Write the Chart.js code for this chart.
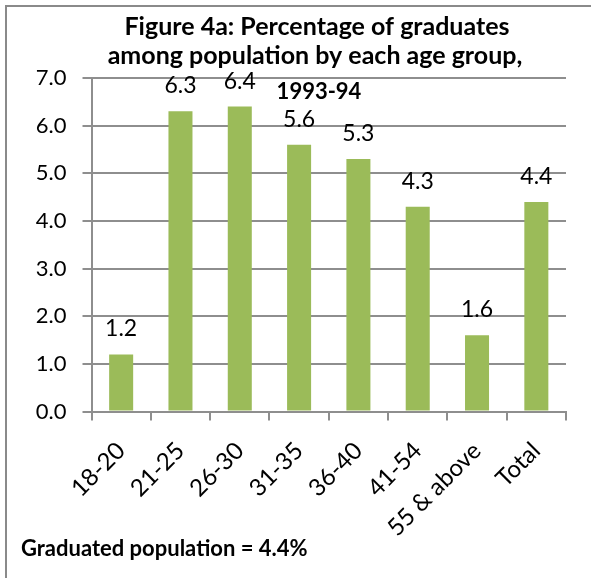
<!DOCTYPE html>
<html>
<head>
<meta charset="utf-8">
<script src="https://cdn.jsdelivr.net/npm/chart.js@4"></script>
<style>
  html, body { margin: 0; padding: 0; background: #fff; overflow: hidden; }
  #frame { position: absolute; left: 5px; top: 5px; width: 600px; height: 600px;
           border-left: 2px solid #8a8a8a; border-top: 2px solid #8a8a8a; }
  #wrap { position: absolute; left: 0; top: 0; width: 591px; height: 578px; }
</style>
</head>
<body>
<div id="frame"></div>
<div id="wrap"><canvas id="grafico" width="591" height="578"></canvas></div>
<script>
// faixas etarias e percentual de graduados
var faixas = ['18-20', '21-25', '26-30', '31-35', '36-40', '41-54', '55 & above', 'Total'];
var percentual = [1.2, 6.3, 6.4, 5.6, 5.3, 4.3, 1.6, 4.4];
var titulo = ['Figure 4a: Percentage of graduates', 'among population by each age group,'];
var anoTitulo = '1993-94';
var rodape = 'Graduated population = 4.4%';

var fonte = 'Lato';
var cinza = '#8e8e8e';

// titulo desenhado a mao: o bloco nao fica centrado no grafico
// e a ultima linha cai dentro da area das barras
var tituloPlugin = {
  id: 'tituloPlugin',
  afterDraw: function (chart) {
    var ctx = chart.ctx;
    ctx.save();
    ctx.fillStyle = '#000';
    ctx.textAlign = 'center';
    ctx.textBaseline = 'alphabetic';
    ctx.font = 'bold 25px ' + fonte;
    ctx.fillText(titulo[0], 317, 35);
    ctx.fillText(titulo[1], 315, 64);
    ctx.font = 'bold 22px ' + fonte;
    ctx.fillText(anoTitulo, 319, 99);
    ctx.restore();
  }
};

// escreve o valor em cima de cada barra
var rotulos = {
  id: 'rotulos',
  afterDatasetsDraw: function (chart) {
    var ctx = chart.ctx;
    var meta = chart.getDatasetMeta(0);
    ctx.save();
    ctx.font = '23px ' + fonte;
    ctx.fillStyle = '#000';
    ctx.textAlign = 'center';
    ctx.textBaseline = 'alphabetic';
    meta.data.forEach(function (bar, i) {
      ctx.fillText(percentual[i].toFixed(1), bar.x, bar.y - 18);
    });
    ctx.restore();
  }
};

var ctx = document.getElementById('grafico').getContext('2d');
var chart = new Chart(ctx, {
  type: 'bar',
  data: {
    labels: faixas,
    datasets: [{
      data: percentual,
      backgroundColor: '#9bbb59',
      borderWidth: 0,
      barPercentage: 1,
      categoryPercentage: 0.405
    }]
  },
  options: {
    responsive: false,
    animation: false,
    layout: { padding: { left: 21, right: 25, top: 78, bottom: 16 } },
    plugins: {
      legend: { display: false },
      tooltip: { enabled: false },
      title: { display: false },
      subtitle: {
        display: true,
        text: rodape,
        position: 'bottom',
        align: 'start',
        color: '#000',
        font: { family: fonte, size: 22, weight: 'bold', lineHeight: 1.2 },
        padding: 0
      }
    },
    scales: {
      y: {
        min: 0,
        max: 7,
        ticks: {
          stepSize: 1,
          color: '#000',
          padding: 16,
          font: { family: fonte, size: 22 },
          callback: function (v) { return v.toFixed(1); }
        },
        grid: { color: cinza, lineWidth: 2, tickLength: 9 },
        border: { color: cinza, width: 2 },
        afterFit: function (scale) { scale.width = 70.5; }
      },
      x: {
        ticks: {
          color: '#000',
          minRotation: 45,
          maxRotation: 45,
          padding: 16,
          font: { family: fonte, size: 24 }
        },
        grid: { drawOnChartArea: false, color: cinza, lineWidth: 2, tickLength: 9 },
        border: { color: cinza, width: 2 },
        afterFit: function (scale) { scale.height = 124; }
      }
    }
  },
  plugins: [rotulos, tituloPlugin]
});
</script>
</body>
</html>
